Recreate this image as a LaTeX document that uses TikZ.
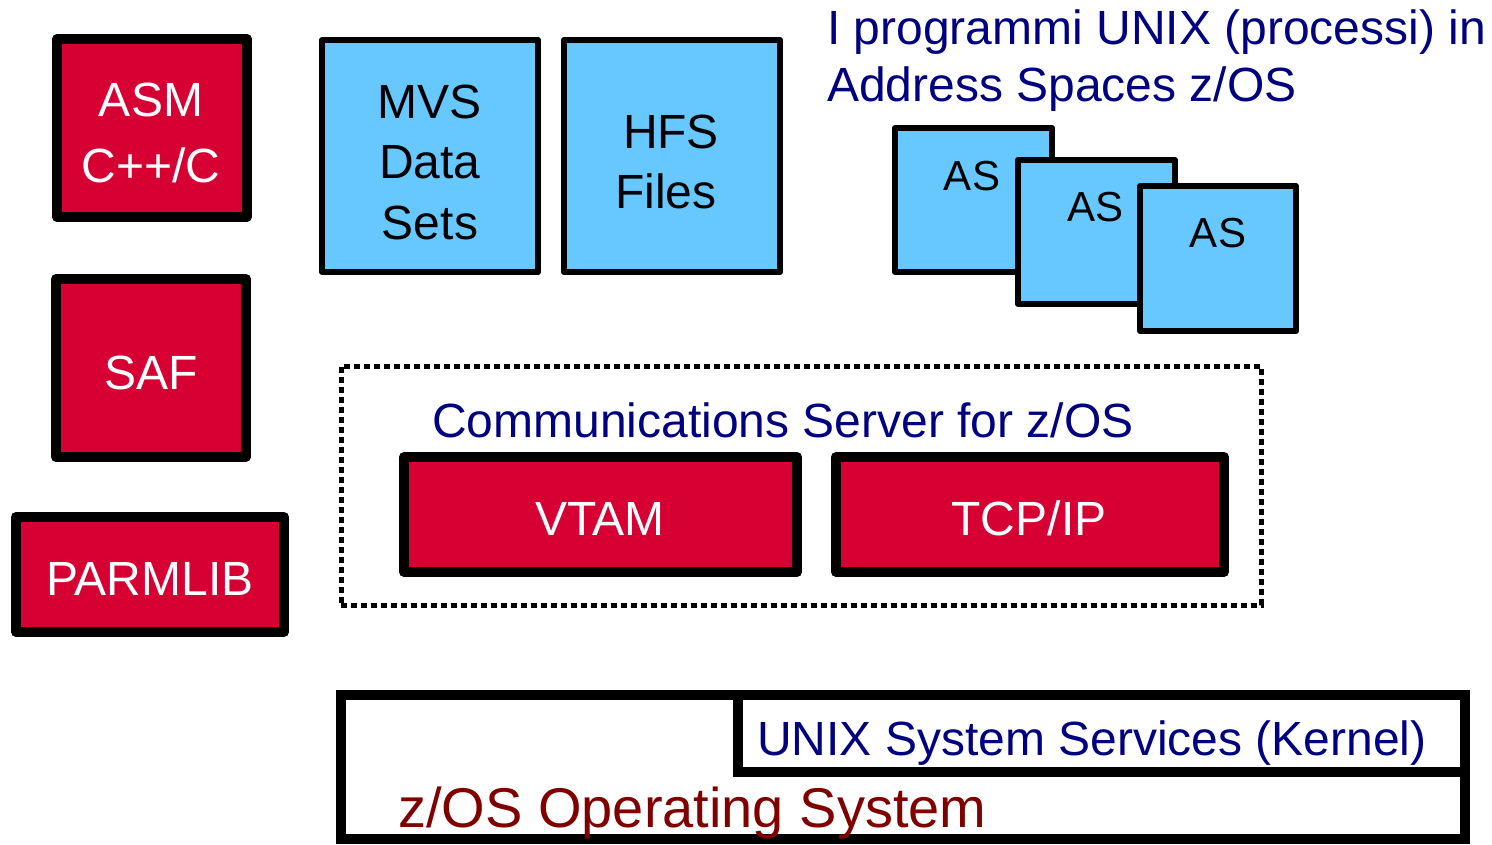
\documentclass[tikz,border=0pt]{standalone}
\usepackage{fontspec}
\setmainfont{Liberation Sans}
\definecolor{boxred}{RGB}{215,0,50}
\definecolor{boxblue}{RGB}{102,200,255}
\definecolor{navytxt}{RGB}{0,0,128}
\definecolor{maroontxt}{RGB}{128,0,0}
\begin{document}
\begin{tikzpicture}[x=1pt,y=-1pt,
  redbox/.style={draw=black, line width=10pt, fill=boxred, line join=round, inner sep=0pt},
  bluebox/.style={draw=black, line width=6pt, fill=boxblue, line join=round, inner sep=0pt},
  plainbox/.style={draw=black, line width=10pt, inner sep=0pt},
  bigtxt/.style={font=\fontsize{48}{57}\selectfont, anchor=base, inner sep=0pt},
  astxt/.style={font=\fontsize{42}{50}\selectfont, anchor=base, inner sep=0pt},
  wtxt/.style={bigtxt, text=white},
  ntxt/.style={bigtxt, text=navytxt, anchor=base west}]
\useasboundingbox (0,0) rectangle (1492,845);

% left red boxes
\node[redbox, minimum width=190pt, minimum height=178pt] (asm) at (152,128) {};
\node[wtxt] (asmA) at (151,117) {ASM};
\node[wtxt] (asmB) at (151,183) {C++/C};
\node[redbox, minimum width=190pt, minimum height=178pt] (saf) at (151,368) {};
\node[wtxt] (safT) at (151,389) {SAF};
\node[redbox, minimum width=268pt, minimum height=115pt] (parm) at (150,574.5) {};
\node[wtxt] (parmT) at (150,595) {PARMLIB};

% blue data boxes
\node[bluebox, minimum width=216pt, minimum height=232pt] (mvs) at (430,156) {};
\node[bigtxt] (mvsA) at (430,119) {MVS};
\node[bigtxt] (mvsB) at (430,179) {Data};
\node[bigtxt] (mvsC) at (430,240) {Sets};
\node[bluebox, minimum width=216pt, minimum height=232pt] (hfs) at (672,156) {};
\node[bigtxt] (hfsA) at (671,149) {HFS};
\node[bigtxt] (hfsB) at (666,209) {Files};

% title
\node[ntxt] (titA) at (827,45) {I programmi UNIX (processi) in};
\node[ntxt] (titB) at (827,102) {Address Spaces z/OS};

% address spaces
\node[bluebox, minimum width=157pt, minimum height=144pt] (as1) at (973.5,200) {};
\node[astxt] (as1T) at (972,191) {AS};
\node[bluebox, minimum width=157pt, minimum height=144pt] (as2) at (1096.5,232) {};
\node[astxt] (as2T) at (1095.5,222) {AS};
\node[bluebox, minimum width=156pt, minimum height=145pt] (as3) at (1218,258.5) {};
\node[astxt] (as3T) at (1218,248) {AS};

% communications server
\node[draw=black, line width=5pt, dash pattern=on 6pt off 4pt, inner sep=0pt,
      minimum width=920pt, minimum height=239pt] (cs) at (801,485.5) {};
\node[ntxt] (csT) at (432,437) {Communications Server for z/OS};
\node[redbox, minimum width=393pt, minimum height=115pt] (vtam) at (600.5,514.5) {};
\node[wtxt] (vtamT) at (600,535) {VTAM};
\node[redbox, minimum width=388pt, minimum height=115pt] (tcp) at (1030,514.5) {};
\node[wtxt] (tcpT) at (1029,535) {TCP/IP};

% z/OS and UNIX System Services
\node[plainbox, minimum width=1124pt, minimum height=144pt] (zos) at (903,767) {};
\node[plainbox, minimum width=727pt, minimum height=77pt] (uss) at (1101.5,733.5) {};
\node[ntxt] (ussT) at (757,755) {UNIX System Services (Kernel)};
\node[bigtxt, anchor=base west, text=maroontxt, font=\fontsize{56}{67}\selectfont] (zosT) at (398,827) {z/OS Operating System};
\end{tikzpicture}
\end{document}
